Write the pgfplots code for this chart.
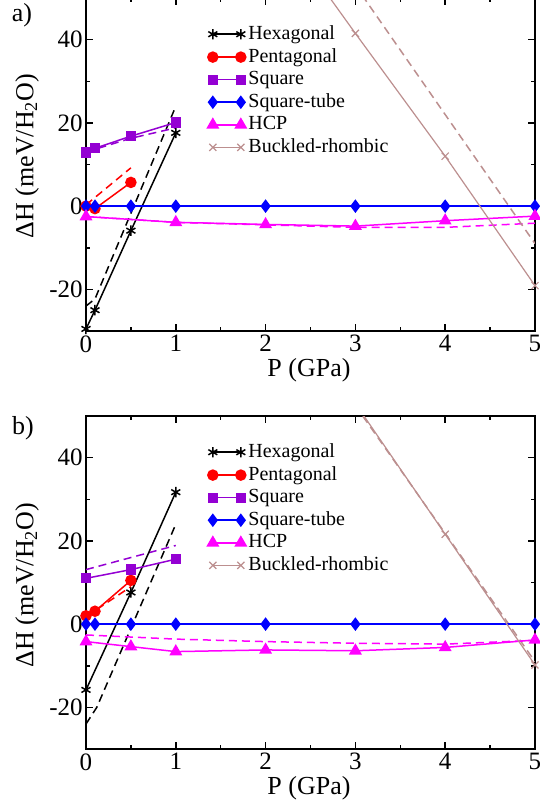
\documentclass[border=0pt]{standalone}
\usepackage{fontspec}
\setmainfont{Liberation Serif}
\newfontfamily\tnr{Liberation Serif}
\usepackage{pgfplots}
\pgfplotsset{compat=1.18}

\definecolor{penc}{RGB}{255,0,0}
\definecolor{sqc}{RGB}{148,0,211}
\definecolor{stc}{RGB}{0,0,255}
\definecolor{hcpc}{RGB}{255,0,255}
\definecolor{brc}{RGB}{188,143,143}

\newcommand{\lgd}[1]{\addlegendentry{#1\vphantom{Hg}}}

\pgfplotsset{
  panel/.style={
    scale only axis, width=224.5pt, height=166.5pt,
    xmin=0, xmax=5, ymin=-30, ymax=50,
    xtick={0,1,2,3,4,5}, minor x tick num=1,
    ytick={-20,0,20,40}, minor y tick num=1,
    tick align=inside, major tick length=3.5pt, minor tick length=2pt,
    axis line style={line width=0.75pt},
    every tick/.style={line width=0.75pt, black},
    tick label style={font=\tnr\fontsize{12.5}{14}\selectfont},
    yticklabel style={inner sep=1.5pt},
    xticklabel style={inner sep=2pt},
    /pgf/number format/assume math mode=true,
    clip mode=individual,
    legend cell align=left,
    legend style={draw=none, fill=none, inner sep=0pt, row sep=0.6pt,
      font=\tnr\fontsize{10}{12}\selectfont,
      nodes={inner sep=1.2pt},
      at={(rel axis cs:0.27,0.925)}, anchor=north west},
    legend image code/.code={\draw[#1] plot coordinates {(0pt,0pt) (14pt,0pt)};
      \pgfpathrectangle{\pgfpoint{0pt}{-4.8pt}}{\pgfpoint{14pt}{8pt}}\pgfusepath{discard}},
  },
  hexs/.style={black, line width=0.75pt, mark=asterisk, mark size=2.6pt, mark options={solid}},
  pens/.style={penc, line width=0.75pt, mark=*, mark size=2.5pt, mark options={solid}},
  sqs/.style={sqc, line width=0.75pt, mark=square*, mark size=2.2pt, mark options={solid}},
  sts/.style={stc, line width=0.75pt, mark=diamond*, mark size=2.8pt, mark options={solid}},
  hcps/.style={hcpc, line width=0.75pt, mark=triangle*, mark size=3pt, mark options={solid}},
  brs/.style={brc, line width=0.6pt, mark=x, mark size=2.5pt, mark options={solid}},
  dsh/.style={line width=0.75pt, dash pattern=on 4pt off 2.5pt, forget plot, mark=none},
}

\begin{document}
\begin{tikzpicture}[every node/.style={font=\tnr}]
% ---------------- panel a ----------------
\begin{axis}[panel, at={(0pt,209pt)}, anchor=south west]
  \addplot[dsh, black] coordinates {(0,-24) (0.1,-22.3) (1,24)};
  \addplot[dsh, penc] coordinates {(0,0.3) (0.5,9.2)};
  \addplot[dsh, sqc] coordinates {(0,13) (0.5,16.3) (1,18.8)};
  \addplot[dsh, hcpc] coordinates {(0,-2.5) (1,-3.9) (2,-4.5) (3,-5.1) (4,-5.1) (5,-4.1)};
  \addplot[dsh, brc] coordinates {(2,84) (3,53) (4,22) (5,-9)};
  \addplot[hexs] coordinates {(0,-29.5) (0.1,-25) (0.5,-5.9) (1,17.6)};
  \lgd{Hexagonal}
  \addplot[pens] coordinates {(0,0) (0.1,-0.6) (0.5,5.7)};
  \lgd{Pentagonal}
  \addplot[sqs] coordinates {(0,12.9) (0.1,13.9) (0.5,16.8) (1,20.1)};
  \lgd{Square}
  \addplot[sts] coordinates {(0,0) (0.1,0) (0.5,0) (1,0) (2,0) (3,0) (4,0) (5,0)};
  \lgd{Square-tube}
  \addplot[hcps] coordinates {(0,-2.5) (1,-3.9) (2,-4.4) (3,-4.8) (4,-3.5) (5,-2.4)};
  \lgd{HCP}
  \addplot[brs] coordinates {(2,71.5) (3,41.5) (4,12) (5,-19.1)};
  \lgd{Buckled-rhombic}
\end{axis}
% ---------------- panel b ----------------
\begin{axis}[panel, at={(0pt,0pt)}, anchor=south west]
  \addplot[dsh, black] coordinates {(0,-24) (0.12,-20) (1,24)};
  \addplot[dsh, penc] coordinates {(0,1.8) (0.5,9)};
  \addplot[dsh, sqc] coordinates {(0,13.1) (1,18.9)};
  \addplot[dsh, hcpc] coordinates {(0,-2.6) (1,-3.6) (2,-4.2) (3,-4.6) (4,-4.8) (5,-3.9)};
  \addplot[dsh, brc] coordinates {(3,52.5) (4,21.8) (5,-9)};
  \addplot[hexs] coordinates {(0,-15.8) (0.5,7.6) (1,31.7)};
  \lgd{Hexagonal}
  \addplot[pens] coordinates {(0,2) (0.1,3.1) (0.5,10.5)};
  \lgd{Pentagonal}
  \addplot[sqs] coordinates {(0,11) (0.5,13.1) (1,15.6)};
  \lgd{Square}
  \addplot[sts] coordinates {(0,0) (0.1,0) (0.5,0) (1,0) (2,0) (3,0) (4,0) (5,0)};
  \lgd{Square-tube}
  \addplot[hcps] coordinates {(0,-4.2) (0.5,-5.4) (1,-6.6) (2,-6.2) (3,-6.4) (4,-5.6) (5,-3.8)};
  \lgd{HCP}
  \addplot[brs] coordinates {(3,53) (4,21.6) (5,-9.8)};
  \lgd{Buckled-rhombic}
\end{axis}
% labels
\node[font=\tnr\fontsize{13}{15}\selectfont] at (-32pt,367pt) {a)};
\node[font=\tnr\fontsize{13}{15}\selectfont] at (-31.5pt,160.5pt) {b)};
\node[font=\tnr\fontsize{13}{15}\selectfont, rotate=90] at (-29.5pt,296.5pt) {ΔH (meV/H\textsubscript{2}O)};
\node[font=\tnr\fontsize{13}{15}\selectfont, rotate=90] at (-29.5pt,82pt) {ΔH (meV/H\textsubscript{2}O)};
\node[font=\tnr\fontsize{13}{15}\selectfont] at (111.5pt,189.5pt) {P (GPa)};
\node[font=\tnr\fontsize{13}{15}\selectfont] at (111.5pt,-19.5pt) {P (GPa)};
\pgfresetboundingbox
\useasboundingbox (-43pt,-28pt) rectangle (227pt,374.5pt);
\end{tikzpicture}
\end{document}
